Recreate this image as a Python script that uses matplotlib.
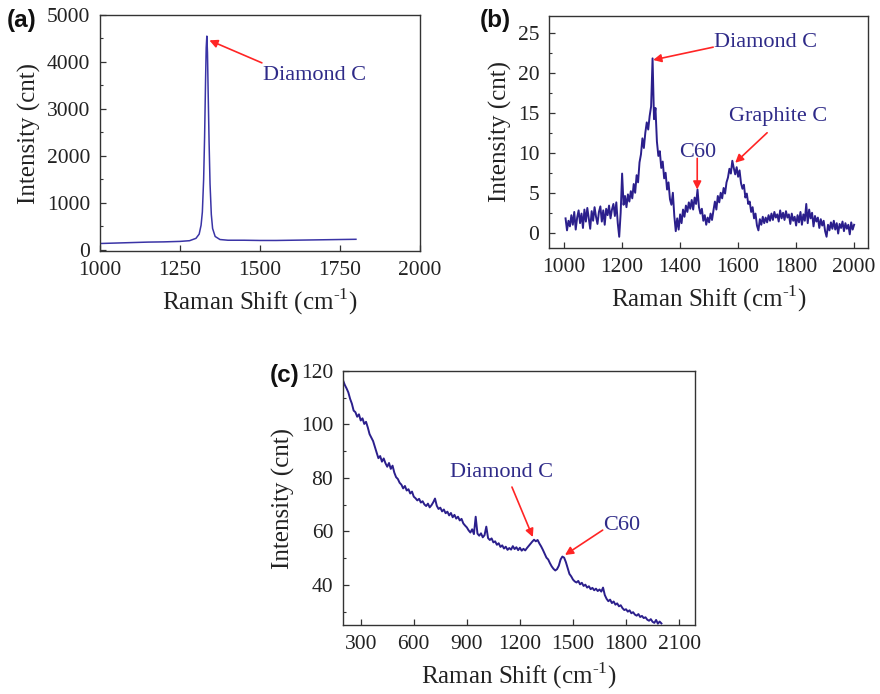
import numpy as np
import matplotlib
matplotlib.use("Agg")
import matplotlib.pyplot as plt
from matplotlib.ticker import MultipleLocator, AutoMinorLocator

plt.rcParams["font.family"] = ["Liberation Serif", "DejaVu Serif"]
plt.rcParams["mathtext.fontset"] = "custom"
plt.rcParams["mathtext.rm"] = "Liberation Serif"

# ---------------- (a) diamond-rich sample ----------------
shift_a = [1000, 1050, 1100, 1150, 1200, 1250, 1280, 1300, 1310, 1316, 1320,
           1324, 1327, 1330, 1332, 1334, 1336, 1338, 1341, 1344, 1348, 1352,
           1360, 1375, 1400, 1450, 1500, 1550, 1600, 1650, 1700, 1750, 1800]
intensity_a = [130, 140, 150, 160, 165, 175, 190, 240, 330, 520, 800,
               1500, 2400, 3600, 4300, 4550, 4200, 3400, 2300, 1400, 750, 450,
               280, 215, 200, 200, 195, 195, 200, 205, 210, 215, 220]

# ---------------- (b) mixed-phase sample ----------------
shift_b = np.arange(1005, 2001, 5)
intensity_b = [
    1.8, 0.3, 1.5, 0.8, 2.2, 1.0, 2.6, 0.4, 1.9, 2.8,      # 1005-1050
    1.2, 2.4, 0.6, 2.9, 1.4, 3.1, 1.8, 0.5, 2.7, 1.5,      # 1055-1100
    3.2, 2.0, 1.1, 2.6, 3.3, 1.4, 2.8, 1.0, 3.0, 2.2,      # 1105-1150
    3.4, 1.8, 2.9, 3.6, 2.1, 3.8, 1.2, -0.5, 2.5, 7.4,     # 1155-1200
    3.5, 4.6, 3.2, 4.8, 3.9, 5.2, 4.3, 6.1, 5.0, 7.2,      # 1205-1250
    6.3, 8.8, 9.8, 11.8, 10.6, 12.5, 13.8, 12.9, 14.6, 15.8,  # 1255-1300
    21.8, 14.2, 15.6, 11.4, 9.6, 10.2, 8.1, 8.9, 6.8, 7.5,  # 1305-1350
    5.4, 6.3, 4.2, 3.5, 5.0, 2.1, 0.2, 1.8, 0.4, 2.3,      # 1355-1400
    1.2, 2.9, 2.0, 3.4, 2.6, 3.8, 3.0, 4.1, 2.9, 4.4,      # 1405-1450
    3.6, 5.4, 3.2, 2.4, 3.0, 1.5, 2.2, 1.0, 1.9, 1.3,      # 1455-1500
    2.4, 1.6, 2.8, 3.9, 2.9, 4.6, 3.8, 5.0, 4.3, 5.6,      # 1505-1550
    4.9, 6.3, 6.9, 8.0, 7.4, 9.0, 8.1, 7.3, 8.2, 7.0,      # 1555-1600
    7.8, 6.2, 5.5, 6.0, 4.4, 4.9, 3.6, 3.9, 2.6, 3.2,      # 1605-1650
    1.8, 2.4, 0.9, 0.3, 1.7, 1.0, 2.0, 1.2, 1.9, 1.3,      # 1655-1700
    2.2, 1.5, 2.4, 1.6, 2.6, 1.9, 2.3, 1.4, 2.8, 1.8,      # 1705-1750
    2.5, 1.6, 2.7, 1.9, 2.3, 1.1, 2.4, 1.5, 2.0, 0.9,      # 1755-1800
    2.2, 1.3, 2.6, 1.0, 2.3, 1.5, 3.6, 1.2, 2.9, 1.8,      # 1805-1850
    2.5, 0.8, 2.1, 1.4, 1.9, 0.6, 1.7, 0.9, 1.5, 0.2,      # 1855-1900
    -0.5, 1.0, 0.3, 1.3, 0.5, 1.5, 0.4, 1.2, -0.1, 1.1,    # 1905-1950
    0.6, 1.4, 0.2, 1.2, 0.5, 1.0, -0.2, 1.3, 0.4, 1.0,     # 1955-2000
]

# ---------------- (c) C60-bearing sample ----------------
shift_c = np.arange(200, 2001, 10)
intensity_c = [
    116.5, 114.8, 113.5, 112.0, 109.6, 107.8, 105.2, 104.6, 102.9, 103.8,  # 200-290
    101.5, 102.3, 100.2, 101.0, 98.9, 96.4, 95.1, 93.8, 91.6, 89.5,        # 300-390
    87.4, 88.2, 86.1, 87.3, 85.5, 84.2, 85.6, 83.4, 84.6, 82.0,            # 400-490
    80.3, 79.6, 78.2, 77.5, 76.1, 77.0, 75.3, 75.8, 74.2, 74.9,            # 500-590
    73.0, 72.4, 71.6, 72.2, 70.8, 71.3, 70.1, 69.5, 70.4, 69.0,            # 600-690
    69.8, 70.9, 72.3, 69.6, 68.4, 68.9, 67.5, 68.2, 66.8, 67.4,            # 700-790
    66.0, 66.9, 65.3, 66.2, 64.8, 65.5, 64.1, 64.7, 63.0, 62.2,            # 800-890
    61.5, 60.4, 59.6, 60.8, 59.0, 65.5, 59.2, 58.4, 59.3, 57.8,            # 900-990
    58.6, 61.8, 57.5, 56.8, 57.4, 55.9, 56.3, 55.0, 55.6, 54.2,            # 1000-1090
    54.8, 53.6, 54.3, 53.1, 53.8, 53.2, 54.5, 53.4, 54.1, 53.0,            # 1100-1190
    53.9, 52.8, 53.5, 52.9, 53.8, 54.6, 55.4, 56.2, 56.9, 56.3,            # 1200-1290
    56.8, 55.5, 54.4, 53.1, 51.6, 50.2, 49.5, 48.1, 46.9, 46.0,            # 1300-1390
    45.4, 45.9, 47.2, 49.5, 50.6, 50.2, 48.5, 46.3, 44.1, 43.2,            # 1400-1490
    42.0, 41.3, 40.9, 41.5, 40.2, 40.8, 39.6, 40.1, 39.0, 39.5,            # 1500-1590
    38.4, 38.9, 38.0, 38.6, 37.7, 38.3, 37.5, 39.0, 36.2, 34.8,            # 1600-1690
    33.9, 34.5, 33.2, 33.8, 32.6, 33.1, 32.0, 32.4, 31.3, 30.6,            # 1700-1790
    30.9, 30.0, 30.5, 29.4, 29.8, 28.9, 28.5, 29.1, 28.0, 28.4,            # 1800-1890
    27.6, 27.9, 27.0, 26.6, 27.2, 26.2, 25.8, 26.9, 25.5, 26.3,            # 1900-1990
    25.6,                                                                  # 2000
]

XLABEL = "Raman Shift (cm$^{\\text{-1}}$)"
YLABEL = "Intensity (cnt)"
line_col = "#2b1f8c"
text_col = "#2e2a88"
arrow_col = "#ff2525"

TICK_FS = 15.5
LABEL_FS = 18
ANN_FS = 16

fig = plt.figure(figsize=(8.8, 6.94), dpi=100)


def style_axes(ax):
    for sp in ax.spines.values():
        sp.set_linewidth(1.0)
        sp.set_color("#333333")
    ax.tick_params(which="both", direction="in", labelsize=TICK_FS,
                   colors="#333333", labelcolor="#222222")
    ax.tick_params(which="major", length=4, width=0.9, pad=7)
    ax.tick_params(which="minor", length=2.5, width=0.8)
    ax.yaxis.set_minor_locator(AutoMinorLocator(2))
    ax.set_xlabel(XLABEL, fontsize=LABEL_FS, labelpad=5, color="#222222")
    ax.set_ylabel(YLABEL, fontsize=LABEL_FS, labelpad=4, color="#222222")


def arrow(ax, tip, tail):
    ax.annotate("", xy=tip, xytext=tail,
                arrowprops=dict(arrowstyle="-|>", color=arrow_col, lw=1.2,
                                mutation_scale=12, shrinkA=0, shrinkB=0))


# (a)
ax_a = fig.add_axes([0.1136, 0.6383, 0.3636, 0.3401])
ax_a.plot(shift_a, intensity_a, color="#3a34a6", lw=1.1)
ax_a.set_xlim(1000, 2000)
ax_a.set_ylim(-30, 5000)
ax_a.xaxis.set_major_locator(MultipleLocator(250))
ax_a.yaxis.set_major_locator(MultipleLocator(1000))
style_axes(ax_a)
ax_a.text(1509, 3705, "Diamond C", fontsize=ANN_FS, color=text_col,
          va="center", ha="left")
arrow(ax_a, (1342, 4460), (1506, 3980))

# (b)
ax_b = fig.add_axes([0.6239, 0.6427, 0.3625, 0.3343])
ax_b.plot(shift_b, intensity_b, color=line_col, lw=1.4)
ax_b.set_xlim(948, 2048)
ax_b.set_ylim(-1.9, 27.1)
ax_b.xaxis.set_major_locator(MultipleLocator(200))
ax_b.yaxis.set_major_locator(MultipleLocator(5))
style_axes(ax_b)
ax_b.text(1517, 23.75, "Diamond C", fontsize=ANN_FS, color=text_col,
          va="center", ha="left")
arrow(ax_b, (1307, 21.6), (1514, 23.2))
ax_b.text(1459, 10.0, "C60", fontsize=ANN_FS, color=text_col,
          va="center", ha="center")
arrow(ax_b, (1459, 5.4), (1459, 9.3))
ax_b.text(1569, 14.5, "Graphite C", fontsize=ANN_FS, color=text_col,
          va="center", ha="left")
arrow(ax_b, (1590, 8.75), (1700, 12.5))

# (c)
ax_c = fig.add_axes([0.3898, 0.0994, 0.4, 0.366])
ax_c.plot(shift_c, intensity_c, color=line_col, lw=1.4)
ax_c.set_xlim(200, 2190)
ax_c.set_ylim(25, 120)
ax_c.xaxis.set_major_locator(MultipleLocator(300))
ax_c.yaxis.set_major_locator(MultipleLocator(20))
style_axes(ax_c)
ax_c.text(804, 82.2, "Diamond C", fontsize=ANN_FS, color=text_col,
          va="center", ha="left")
arrow(ax_c, (1273, 57.9), (1155, 76.6))
ax_c.text(1670, 62.4, "C60", fontsize=ANN_FS, color=text_col,
          va="center", ha="left")
arrow(ax_c, (1455, 51.2), (1668, 60.5))

# panel letters
for label, (px, py) in {"(a)": (22, 20), "(b)": (495, 21), "(c)": (285, 376)}.items():
    fig.text(px / 880, 1 - py / 694, label, fontsize=17.5, fontweight="bold",
             family="Liberation Sans", ha="center", va="center", color="#111111")

fig.savefig("out.png", dpi=100)
